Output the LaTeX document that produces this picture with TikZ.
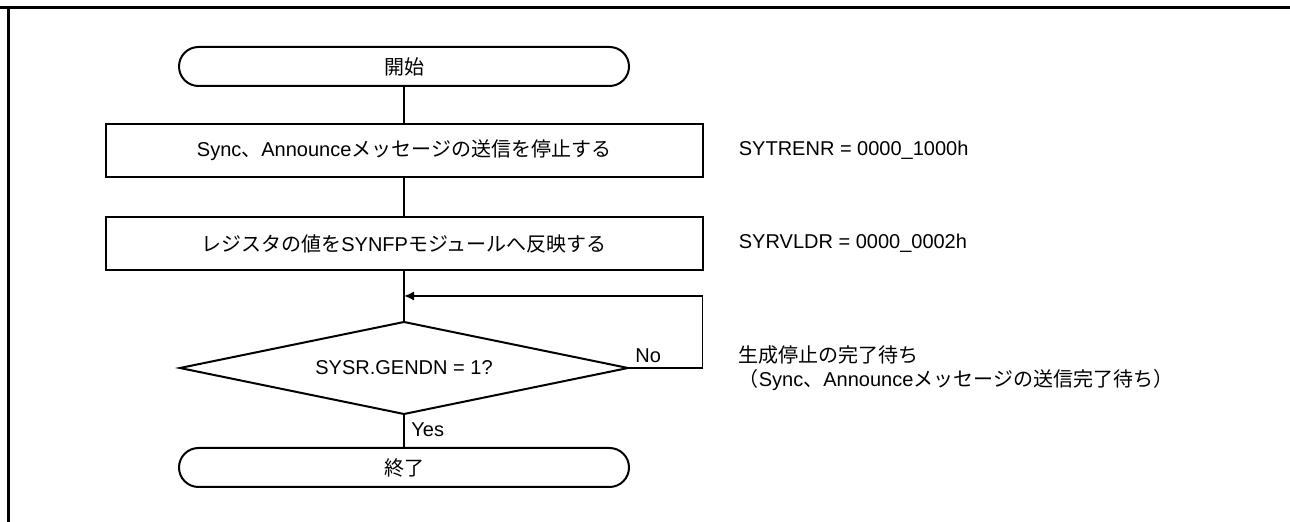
\documentclass[tikz,border=0pt]{standalone}
\usepackage{fontspec}
\setmainfont{Liberation Sans}
\newfontfamily\jpfont{Noto Sans CJK JP}
\usepackage{tikz}
\usetikzlibrary{arrows.meta,positioning,shapes.geometric,calc}
\newcommand{\ja}[1]{{\jpfont #1}}
\tikzset{
  term/.style={draw,line width=1pt,rounded corners=9.75pt,minimum width=225pt,minimum height=19.5pt,inner sep=0pt,outer sep=0pt,font=\fontsize{10}{12}\selectfont},
  box/.style={draw,line width=1pt,minimum width=298.5pt,minimum height=26.5pt,inner sep=0pt,outer sep=0pt,font=\fontsize{10}{12}\selectfont},
  dec/.style={diamond,draw,line width=1pt,aspect=4.9,minimum width=224pt,minimum height=46pt,inner sep=0pt,outer sep=0pt,font=\fontsize{10}{12}\selectfont},
  flow/.style={line width=0.75pt},
  arr/.style={-{Latex[length=5pt,width=4.5pt]},line width=0.75pt},
  lbl/.style={inner sep=0pt,font=\fontsize{10}{12}\selectfont},
  note/.style={inner sep=0pt,align=left,font=\fontsize{10}{12}\selectfont},
  frame/.style={line width=1.5pt},
}
\begin{document}
\begin{tikzpicture}[x=1pt,y=1pt]
\useasboundingbox (0,0) rectangle (645,-261);
% frame
\draw[frame] (0,-3.75) -- (645,-3.75);
\draw[frame] (4.25,-3.75) -- (4.25,-261);
% flow
\node[term] (start) at (202,-33.25) {\ja{開始}};
\node[box,below=19pt of start] (b1) {Sync\ja{、}Announce\ja{メッセージの送信を停止する}};
\node[box,below=20pt of b1] (b2) {\ja{レジスタの値を}SYNFP\ja{モジュールへ反映する}};
\node[dec,below=26pt of b2] (d) {SYSR.GENDN = 1?};
\node[term,below=17pt of d] (stop) {\ja{終了}};
\coordinate (jn) at ($(b2.south)!0.5!(d.north)$);
\draw[flow] (start) -- (b1);
\draw[flow] (b1) -- (b2);
\draw[flow] (b2) -- (d);
\draw[flow] (d) -- (stop);
\draw[arr] (d.east) -- (d.east -| b2.east) |- (jn);
\node[lbl,anchor=south west] (no) at ([xshift=3.5pt,yshift=2.5pt]d.east) {No};
\node[lbl,anchor=north west] (yes) at ([xshift=3.5pt,yshift=-4pt]d.south) {Yes};
% register notes
\node[note,right=18pt of b1] (n1) {SYTRENR = 0000\_1000h};
\node[note,right=18pt of b2] (n2) {SYRVLDR = 0000\_0002h};
\node[note,anchor=west] (n3) at (n2.west |- d) {\ja{生成停止の完了待ち}\\\ja{（}Sync\ja{、}Announce\ja{メッセージの送信完了待ち）}};
\end{tikzpicture}
\end{document}
